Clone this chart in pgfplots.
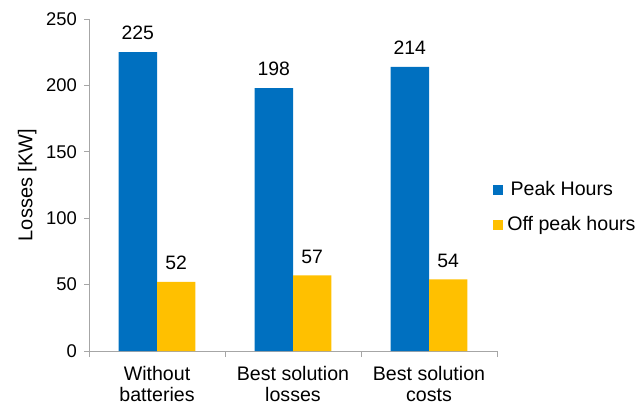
\documentclass[border=0pt]{standalone}
\usepackage{pgfplots}
\pgfplotsset{compat=1.18}
\usepackage{fontspec}
\setmainfont{Liberation Sans}
\definecolor{peak}{HTML}{0070C0}
\definecolor{offpeak}{HTML}{FFC000}
\definecolor{axgray}{HTML}{A6A6A6}
\begin{document}
\begin{tikzpicture}
\useasboundingbox (0pt,0pt) rectangle (317.5pt,203.5pt);
\begin{axis}[
  at={(44.5pt,28pt)}, anchor=south west,
  scale only axis, width=204pt, height=166pt,
  ybar=0pt, bar width=0.283,
  xmin=0.5, xmax=3.5, ymin=0, ymax=250,
  xtick={1,2,3},
  xticklabels={Without\\batteries, Best solution\\losses, Best solution\\costs},
  x tick label style={align=center, font=\fontsize{9.8}{10.5}\selectfont, yshift=-1.5pt},
  minor xtick={0.5,1.5,2.5,3.5},
  major x tick style={draw=none},
  ytick={0,50,100,150,200,250},
  y tick label style={font=\fontsize{9.2}{11}\selectfont},
  /pgf/number format/assume math mode=true,
  tick align=outside,
  major tick length=2.5pt, minor tick length=3pt,
  tick style={axgray, thin},
  axis x line*=bottom, axis y line*=left,
  axis line style={axgray, thin},
  ylabel={Losses [KW]},
  ylabel style={font=\fontsize{10}{11}\selectfont, yshift=-2pt},
  nodes near coords,
  every node near coord/.append style={font=\fontsize{9.7}{11}\selectfont, yshift=2.5pt},
  legend style={at={(0.99,0.432)}, anchor=west, draw=none, fill=none, inner sep=0pt,
    font=\fontsize{9.8}{11}\selectfont, row sep=5pt, legend cell align=left},
  legend image code/.code={\fill[#1] (0pt,-2.5pt) rectangle (5pt,2.5pt);},
]
\addplot[fill=peak, draw=none] coordinates {(1,225) (2,198) (3,214)};
\addlegendentry{\,Peak Hours}
\addplot[fill=offpeak, draw=none] coordinates {(1,52) (2,57) (3,54)};
\addlegendentry{Off peak hours}
\end{axis}
\end{tikzpicture}
\end{document}
